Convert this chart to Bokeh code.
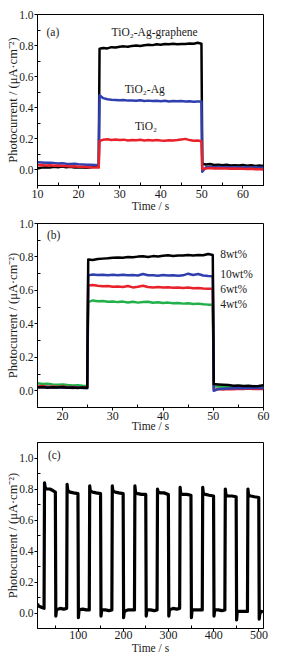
from bokeh.plotting import figure
from bokeh.models import FixedTicker, PrintfTickFormatter, Range1d, Label
from bokeh.layouts import column
from bokeh.embed import file_html
from bokeh.resources import INLINE

# ---------------- Panel (a) data ----------------
a_time = [10, 11, 12, 13, 14, 15, 16, 17, 18, 19, 20, 21, 22, 23, 24, 24.9, 25.1,
          26, 27, 28, 29, 30, 31, 32, 33, 34, 35, 36, 37, 38, 39, 40, 41, 42, 43, 44, 45, 46, 47, 48, 49,
          49.9, 50.1,
          51, 52, 53, 54, 55, 56, 57, 58, 59, 60, 61, 62, 63, 64, 65]
a_graphene = [0.010, 0.015, 0.018, 0.015, 0.020, 0.018, 0.022, 0.017, 0.020, 0.015, 0.018, 0.016, 0.014, 0.018, 0.020,
              0.022, 0.780,
              0.785, 0.782, 0.790, 0.788, 0.793, 0.795, 0.792, 0.798, 0.800, 0.797, 0.802, 0.805, 0.803, 0.808,
              0.806, 0.810, 0.808, 0.812, 0.809, 0.811, 0.810, 0.814, 0.812, 0.818,
              0.812, 0.040,
              0.035, 0.038, 0.032, 0.034, 0.030, 0.033, 0.028, 0.031, 0.029, 0.032, 0.027, 0.030, 0.026, 0.028, 0.025]
a_ag = [0.050, 0.048, 0.046, 0.047, 0.044, 0.042, 0.043, 0.040, 0.038, 0.040, 0.036, 0.035, 0.034, 0.033, 0.032,
        0.030, 0.480,
        0.462, 0.455, 0.452, 0.450, 0.448, 0.450, 0.446, 0.447, 0.445, 0.448, 0.444, 0.446, 0.443, 0.445,
        0.442, 0.445, 0.441, 0.444, 0.442, 0.443, 0.440, 0.442, 0.439, 0.441,
        0.440, -0.012,
        0.018, 0.020, 0.018, 0.020, 0.017, 0.019, 0.016, 0.018, 0.017, 0.016, 0.018, 0.015, 0.017, 0.014, 0.015]
a_tio2 = [0.030, 0.032, 0.028, 0.030, 0.027, 0.029, 0.025, 0.026, 0.022, 0.024, 0.020, 0.021, 0.018, 0.017, 0.015,
          0.015, 0.185,
          0.195, 0.198, 0.193, 0.196, 0.192, 0.195, 0.190, 0.193, 0.191, 0.194, 0.190, 0.192, 0.189, 0.193,
          0.190, 0.188, 0.191, 0.189, 0.192, 0.196, 0.200, 0.192, 0.188, 0.190,
          0.185, 0.005,
          0.010, 0.012, 0.010, 0.011, 0.009, 0.010, 0.008, 0.009, 0.007, 0.008, 0.006, 0.007, 0.005, 0.004, 0.003]
a_names = ["TiO\u2082-Ag-graphene", "TiO\u2082-Ag", "TiO\u2082"]

# ---------------- Panel (b) data ----------------
b_time = [15, 16, 17, 18, 19, 20, 21, 22, 23, 24, 24.9, 25.1,
          26, 27, 28, 29, 30, 31, 32, 33, 34, 35, 36, 37, 38, 39, 40, 41, 42, 43, 44, 45, 46, 47, 48, 49,
          49.9, 50.1,
          51, 52, 53, 54, 55, 56, 57, 58, 59, 60]
b_8wt = [0.020, 0.022, 0.018, 0.021, 0.019, 0.022, 0.018, 0.020, 0.017, 0.019,
         0.018, 0.785,
         0.782, 0.788, 0.790, 0.792, 0.795, 0.797, 0.795, 0.800, 0.798, 0.802, 0.804, 0.800, 0.805, 0.803,
         0.807, 0.810, 0.806, 0.809, 0.808, 0.811, 0.809, 0.812, 0.810, 0.818,
         0.812, 0.040,
         0.038, 0.036, 0.034, 0.030, 0.032, 0.028, 0.030, 0.027, 0.029, 0.033]
b_10wt = [0.022, 0.020, 0.023, 0.019, 0.021, 0.018, 0.020, 0.017, 0.019, 0.016,
          0.015, 0.690,
          0.695, 0.692, 0.694, 0.690, 0.693, 0.691, 0.694, 0.690, 0.692, 0.689, 0.698, 0.691, 0.690, 0.688,
          0.692, 0.689, 0.691, 0.688, 0.690, 0.700, 0.692, 0.698, 0.689, 0.686,
          0.685, 0.000,
          0.010, 0.012, 0.014, 0.015, 0.016, 0.015, 0.017, 0.016, 0.018, 0.017]
b_6wt = [0.025, 0.028, 0.024, 0.026, 0.022, 0.025, 0.021, 0.023, 0.020, 0.018,
         0.018, 0.630,
         0.632, 0.628, 0.625, 0.627, 0.622, 0.624, 0.620, 0.626, 0.618, 0.622, 0.628, 0.620, 0.618, 0.621,
         0.617, 0.619, 0.616, 0.618, 0.615, 0.617, 0.613, 0.615, 0.612, 0.610,
         0.610, 0.005,
         0.010, 0.008, 0.011, 0.009, 0.012, 0.010, 0.013, 0.011, 0.012, 0.010]
b_4wt = [0.045, 0.040, 0.042, 0.038, 0.036, 0.037, 0.034, 0.032, 0.033, 0.030,
         0.028, 0.530,
         0.540, 0.535, 0.537, 0.532, 0.534, 0.530, 0.533, 0.528, 0.532, 0.527, 0.530, 0.532, 0.526, 0.529,
         0.525, 0.527, 0.523, 0.525, 0.521, 0.523, 0.519, 0.521, 0.517, 0.515,
         0.515, 0.025,
         0.026, 0.024, 0.025, 0.022, 0.023, 0.021, 0.022, 0.020, 0.021, 0.019]
b_names = ["8wt%", "10wt%", "6wt%", "4wt%"]

# ---------------- Panel (c) data ----------------
c_time = [10, 12, 16, 20, 24.5,
          25.5, 27, 30, 37, 44, 49.5, 50.5, 52, 60, 68, 74.5,
          75.5, 77, 82, 90, 99.5, 100.5, 102, 110, 118, 124.5,
          125.5, 127, 132, 140, 149.5, 150.5, 152, 160, 168, 174.5,
          175.5, 177, 182, 190, 199.5, 200.5, 202, 210, 218, 224.5,
          225.5, 227, 232, 240, 249.5, 250.5, 252, 260, 268, 274.5,
          275.5, 277, 282, 290, 299.5, 300.5, 302, 310, 318, 324.5,
          325.5, 327, 332, 340, 349.5, 350.5, 352, 360, 368, 374.5,
          375.5, 377, 382, 390, 399.5, 400.5, 402, 410, 418, 424.5,
          425.5, 427, 432, 440, 449.5, 450.5, 452, 460, 468, 474.5,
          475.5, 477, 482, 490, 499.5, 500.5, 502, 506, 509]
c_current = [0.060, 0.045, 0.040, 0.035, 0.030,
             0.840, 0.810, 0.800, 0.800, 0.790, 0.780, -0.020, 0.020, 0.030, 0.025, 0.030,
             0.830, 0.790, 0.780, 0.775, 0.770, -0.030, 0.020, 0.025, 0.020, 0.020,
             0.820, 0.785, 0.780, 0.775, 0.770, -0.020, 0.020, 0.020, 0.015, 0.020,
             0.820, 0.785, 0.780, 0.775, 0.770, -0.030, 0.010, 0.020, 0.020, 0.020,
             0.820, 0.775, 0.770, 0.765, 0.765, -0.020, 0.020, 0.020, 0.015, 0.020,
             0.800, 0.780, 0.775, 0.775, 0.765, -0.020, 0.020, 0.030, 0.025, 0.030,
             0.810, 0.770, 0.765, 0.765, 0.760, -0.030, 0.020, 0.020, 0.020, 0.020,
             0.810, 0.770, 0.765, 0.760, 0.755, -0.020, 0.020, 0.020, 0.015, 0.020,
             0.800, 0.760, 0.755, 0.755, 0.750, -0.045, 0.010, 0.010, 0.010, 0.010,
             0.800, 0.760, 0.755, 0.750, 0.745, -0.040, 0.000, 0.010, 0.005]

# ---------------- Tick labels ----------------
a_xticks = [10, 20, 30, 40, 50, 60]
b_xticks = [20, 30, 40, 50, 60]
c_xticks = [100, 200, 300, 400, 500]
y_ticks = [0.0, 0.2, 0.4, 0.6, 0.8, 1.0]

FONT = "Liberation Serif"
YLABEL = "Photocurrent / (\u03bcA\u00b7cm\u207b\u00b2)"
XLABEL = "Time / s"
TXT = "#1a1a1a"


def make_fig(xr, yr, height, top, bottom, right, xticks, xminor, yminor, s1, s2):
    p = figure(width=282, height=height, x_range=Range1d(*xr), y_range=Range1d(*yr),
               output_backend="svg", toolbar_location=None,
               min_border_left=37, min_border_right=right,
               min_border_top=top, min_border_bottom=bottom)
    p.xgrid.visible = False
    p.ygrid.visible = False
    p.outline_line_color = "black"
    p.outline_line_width = 1
    p.outline_line_alpha = 1
    p.background_fill_color = "white"
    p.border_fill_color = "white"
    p.xaxis.ticker = FixedTicker(ticks=xticks, minor_ticks=xminor)
    p.yaxis.ticker = FixedTicker(ticks=y_ticks, minor_ticks=yminor)
    p.xaxis.formatter = PrintfTickFormatter(format="%d")
    p.yaxis.formatter = PrintfTickFormatter(format="%.1f")
    p.xaxis.axis_label = XLABEL
    p.yaxis.axis_label = YLABEL
    for ax in (p.xaxis[0], p.yaxis[0]):
        ax.axis_line_color = "black"
        ax.axis_line_width = 1
        ax.major_tick_line_color = "black"
        ax.minor_tick_line_color = "black"
        ax.major_tick_out = 3
        ax.major_tick_in = 0
        ax.minor_tick_out = 0
        ax.minor_tick_in = 3
        ax.major_label_text_font = FONT
        ax.major_label_text_color = TXT
        ax.axis_label_text_font = FONT
        ax.axis_label_text_font_style = "normal"
        ax.axis_label_text_color = TXT
    xa = p.xaxis[0]
    xa.major_label_text_font_size = "12px"
    xa.axis_label_text_font_size = "11.5px"
    xa.major_label_standoff = s1
    xa.axis_label_standoff = s2
    ya = p.yaxis[0]
    ya.major_label_text_font_size = "11.5px"
    ya.axis_label_text_font_size = "12.5px"
    ya.major_label_standoff = 1
    ya.axis_label_standoff = -4
    return p


def add_label(p, x, y, text, align="center", size="11.5px"):
    p.add_layout(Label(x=x, y=y, text=text, text_font=FONT, text_font_size=size,
                       text_align=align, text_baseline="middle", text_color=TXT))


# ---- (a)
fa = make_fig((10, 65), (-0.1, 1.0), 217, 14, 32, 14, a_xticks,
              [15, 25, 35, 45, 55, 65], [0.1, 0.3, 0.5, 0.7, 0.9], 1, -1)
fa.line(a_time, a_graphene, line_color="#000000", line_width=2.5, line_join="round")
fa.line(a_time, a_ag, line_color="#2f3fae", line_width=2.5, line_join="round")
fa.line(a_time, a_tio2, line_color="#e8212b", line_width=2.5, line_join="round")
add_label(fa, 12.2, 0.885, "(a)", "left")
add_label(fa, 38.5, 0.887, a_names[0])
add_label(fa, 36.1, 0.52, a_names[1])
add_label(fa, 36.4, 0.285, a_names[2])

# ---- (b)
fb = make_fig((15, 60), (-0.1, 1.0), 220, 6, 30, 19, b_xticks,
              [25, 35, 45, 55], [0.1, 0.3, 0.5, 0.7, 0.9], 1, -3)
fb.line(b_time, b_4wt, line_color="#22b04b", line_width=2.5, line_join="round")
fb.line(b_time, b_6wt, line_color="#e8212b", line_width=2.5, line_join="round")
fb.line(b_time, b_10wt, line_color="#2f3fae", line_width=2.5, line_join="round")
fb.line(b_time, b_8wt, line_color="#000000", line_width=2.5, line_join="round")
add_label(fb, 16.9, 0.93, "(b)", "left")
add_label(fb, 51.4, 0.817, b_names[0], "left")
add_label(fb, 51.4, 0.70, b_names[1], "left")
add_label(fb, 51.4, 0.61, b_names[2], "left")
add_label(fb, 51.4, 0.52, b_names[3], "left")

# ---- (c)
fc = make_fig((10, 510), (-0.1, 1.1), 221, 5, 30, 14, c_xticks,
              [50, 150, 250, 350, 450], [0.1, 0.3, 0.5, 0.7, 0.9], -1, 0)
fc.line(c_time, c_current, line_color="#000000", line_width=3.2, line_join="round")
add_label(fc, 33, 1.017, "(c)", "left")

layout = column(fa, fb, fc, spacing=0)
open("out.html", "w").write(file_html(layout, INLINE))
